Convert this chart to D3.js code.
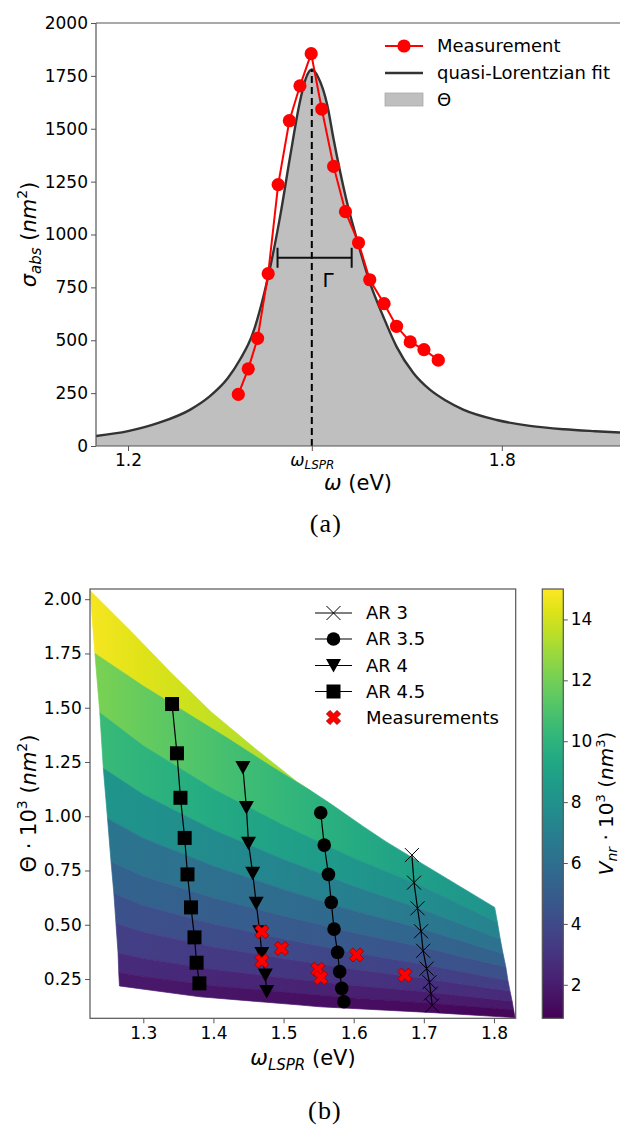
<!DOCTYPE html>
<html>
<head>
<meta charset="utf-8">
<script src="https://cdn.jsdelivr.net/npm/d3@7"></script>
<style>
  body { margin: 0; background: #fff; }
  svg text { font-family: "DejaVu Sans", sans-serif; fill: #000; }
</style>
</head>
<body>
<svg id="fig" width="620" height="1129"></svg>
<script>
// ---------- panel (a) data ----------
const omegaLSPR = 1.495;
const fitOmega = [1.1486, 1.20, 1.25, 1.30, 1.33, 1.36, 1.38, 1.40, 1.415, 1.43, 1.445, 1.46, 1.475, 1.485, 1.495,
                  1.505, 1.52, 1.53, 1.55, 1.572, 1.588, 1.61, 1.631, 1.658, 1.685, 1.71, 1.738, 1.792, 1.845, 1.90, 1.95, 1.99];
const fitSigma = [47, 70, 110, 172, 232, 320, 410, 530, 680, 870, 1100, 1365, 1615, 1735, 1780,
                  1745, 1610, 1450, 1170, 930, 775, 610, 470, 345, 265, 215, 172, 123, 95, 79, 70, 64];
const measOmega = [1.377, 1.393, 1.408, 1.425, 1.441, 1.459, 1.476, 1.494, 1.511, 1.530, 1.549, 1.570, 1.588, 1.611, 1.631, 1.653, 1.675, 1.698];
const measSigma = [244, 365, 509, 815, 1236, 1538, 1703, 1855, 1593, 1322, 1108, 961, 786, 673, 566, 492, 456, 406];
const gammaBar = [1.44, 1.559];   // FWHM bar ends
const gammaLevel = 890;
const yTicksA = [0, 250, 500, 750, 1000, 1250, 1500, 1750, 2000];
const xTicksA = [1.2, omegaLSPR, 1.8];

// ---------- panel (b) data ----------
const ar3Omega  = [1.683, 1.686, 1.691, 1.696, 1.699, 1.704, 1.708, 1.710, 1.712];
const ar3Theta  = [0.821, 0.694, 0.576, 0.470, 0.380, 0.298, 0.235, 0.183, 0.128];
const ar35Omega = [1.553, 1.558, 1.564, 1.568, 1.572, 1.577, 1.580, 1.583, 1.586];
const ar35Theta = [1.016, 0.867, 0.732, 0.603, 0.480, 0.373, 0.284, 0.207, 0.145];
const ar4Omega  = [1.442, 1.447, 1.450, 1.456, 1.461, 1.466, 1.469, 1.474, 1.476];
const ar4Theta  = [1.224, 1.040, 0.875, 0.737, 0.599, 0.468, 0.368, 0.268, 0.192];
const ar45Omega = [1.341, 1.348, 1.353, 1.359, 1.363, 1.368, 1.373, 1.376, 1.380];
const ar45Theta = [1.517, 1.290, 1.085, 0.900, 0.732, 0.580, 0.442, 0.325, 0.230];
const bMeasOmega = [1.469, 1.469, 1.497, 1.549, 1.553, 1.604, 1.673];
const bMeasTheta = [0.468, 0.333, 0.391, 0.295, 0.256, 0.361, 0.268];

// outline and band boundaries of the V_nr map, [omega, theta]
const edgeTop = [[1.224,2.04],[1.283,1.85],[1.340,1.66],[1.397,1.48],[1.459,1.313],[1.519,1.159],[1.566,1.06],
                 [1.614,0.952],[1.646,0.883],[1.70,0.777],[1.801,0.58]];
const level1 = [[1.231,1.75],[1.30,1.60],[1.36,1.48],[1.42,1.36],[1.48,1.235],[1.54,1.115]];
const level2 = [[1.238,1.477],[1.30,1.325],[1.40,1.125],[1.50,0.958],[1.60,0.807],[1.70,0.674],[1.805,0.510]];
const level3 = [[1.243,1.221],[1.30,1.100],[1.40,0.937],[1.50,0.801],[1.60,0.677],[1.70,0.568],[1.809,0.433]];
const level4 = [[1.249,0.990],[1.30,0.899],[1.40,0.771],[1.50,0.663],[1.60,0.565],[1.70,0.478],[1.813,0.366]];
const level5 = [[1.254,0.790],[1.30,0.723],[1.40,0.623],[1.50,0.540],[1.60,0.463],[1.70,0.395],[1.817,0.304]];
const level6 = [[1.258,0.645],[1.30,0.589],[1.40,0.504],[1.50,0.434],[1.60,0.371],[1.70,0.317],[1.820,0.242]];
const level7 = [[1.261,0.507],[1.30,0.467],[1.40,0.398],[1.50,0.344],[1.60,0.295],[1.70,0.252],[1.823,0.193]];
const level8 = [[1.264,0.370],[1.30,0.345],[1.40,0.294],[1.50,0.255],[1.60,0.220],[1.70,0.191],[1.826,0.146]];
const level9 = [[1.265,0.280],[1.30,0.262],[1.40,0.219],[1.50,0.190],[1.60,0.163],[1.70,0.141],[1.828,0.108]];
const edgeBottom = [[1.266,0.218],[1.381,0.168],[1.524,0.130],[1.552,0.122],[1.714,0.095],[1.830,0.072]];
// colour (V_nr) at left and right end of each band, top band first
const bandLeftV  = [14.8, 12.2, 10.5, 8.3, 6.4, 5.4, 4.5, 3.6, 2.7, 1.9];
const bandRightV = [11.1, 7.9, 7.0, 6.1, 5.2, 4.3, 3.4, 2.6, 1.8, 1.1];
const vRange = [0.9, 15.0];

const xTicksB = [1.3, 1.4, 1.5, 1.6, 1.7, 1.8];
const yTicksB = [0.25, 0.50, 0.75, 1.00, 1.25, 1.50, 1.75, 2.00];
const cbTicks = [2, 4, 6, 8, 10, 12, 14];

const svg = d3.select("#fig");
const defs = svg.append("defs");
const spine = "#555";

function styleAxis(g) {
  g.attr("font-family", "DejaVu Sans").attr("font-size", 17);
  g.select(".domain").remove();
  g.selectAll(".tick line").attr("stroke", spine).attr("stroke-width", 1);
  g.selectAll(".tick text").attr("fill", "#000");
}

// ================= panel (a) =================
const xa = d3.scaleLinear().domain([1.1486, 1.9897]).range([96, 620]);
const ya = d3.scaleLinear().domain([0, 2000]).range([446, 23]);

defs.append("clipPath").attr("id", "clipA")
  .append("rect").attr("x", 96).attr("y", 23).attr("width", 524).attr("height", 423);

const fitPts = fitOmega.map((w, i) => [w, fitSigma[i]]);
const measPts = measOmega.map((w, i) => [w, measSigma[i]]);

const pa = svg.append("g").attr("clip-path", "url(#clipA)");

pa.append("path").datum(fitPts)
  .attr("fill", "#bfbfbf")
  .attr("d", d3.area().x(d => xa(d[0])).y0(ya(0)).y1(d => ya(d[1])).curve(d3.curveMonotoneX));

pa.append("path").datum(fitPts)
  .attr("fill", "none").attr("stroke", "#333").attr("stroke-width", 2.4)
  .attr("d", d3.line().x(d => xa(d[0])).y(d => ya(d[1])).curve(d3.curveMonotoneX));

// omega_LSPR dashed line
pa.append("line")
  .attr("x1", xa(omegaLSPR)).attr("x2", xa(omegaLSPR))
  .attr("y1", ya(0)).attr("y2", ya(d3.max(fitSigma)))
  .attr("stroke", "#000").attr("stroke-width", 2).attr("stroke-dasharray", "7,4");

// Gamma bar
const gBar = pa.append("g").attr("stroke", "#111").attr("stroke-width", 2);
gBar.append("line").attr("x1", xa(gammaBar[0])).attr("x2", xa(gammaBar[1]))
  .attr("y1", ya(gammaLevel)).attr("y2", ya(gammaLevel));
gammaBar.forEach(w => gBar.append("line").attr("x1", xa(w)).attr("x2", xa(w))
  .attr("y1", ya(gammaLevel) - 10).attr("y2", ya(gammaLevel) + 10));
svg.append("text").attr("x", xa(1.521)).attr("y", ya(gammaLevel) + 29)
  .attr("text-anchor", "middle").attr("font-size", 20).text("Γ");

// measurement
pa.append("path").datum(measPts)
  .attr("fill", "none").attr("stroke", "#ff0000").attr("stroke-width", 2)
  .attr("d", d3.line().x(d => xa(d[0])).y(d => ya(d[1])));
pa.selectAll("circle.meas").data(measPts).enter().append("circle")
  .attr("class", "meas")
  .attr("cx", d => xa(d[0])).attr("cy", d => ya(d[1])).attr("r", 6.6)
  .attr("fill", "#ff0000");

// axes a
const axYA = svg.append("g").attr("transform", "translate(96,0)")
  .call(d3.axisLeft(ya).tickValues(yTicksA).tickSize(5).tickPadding(3).tickSizeOuter(0).tickFormat(d3.format("d")));
styleAxis(axYA);
const axXA = svg.append("g").attr("transform", "translate(0,446)")
  .call(d3.axisBottom(xa).tickValues(xTicksA).tickSize(5).tickPadding(3).tickSizeOuter(0)
    .tickFormat(d => d === omegaLSPR ? "" : d3.format(".1f")(d)));
styleAxis(axXA);
axXA.selectAll(".tick text").filter(d => d === omegaLSPR).each(function() {
  const t = d3.select(this);
  t.append("tspan").attr("font-style", "italic").text("ω");
  t.append("tspan").attr("font-style", "italic").attr("font-size", 12).attr("dy", 3).text("LSPR");
});
// spines
svg.append("line").attr("x1", 96).attr("x2", 96).attr("y1", 23).attr("y2", 446).attr("stroke", spine).attr("stroke-width", 1.2);
svg.append("line").attr("x1", 96).attr("x2", 620).attr("y1", 446).attr("y2", 446).attr("stroke", spine).attr("stroke-width", 1.2);
svg.append("line").attr("x1", 96).attr("x2", 620).attr("y1", 23).attr("y2", 23).attr("stroke", spine).attr("stroke-width", 1.2);

// axis labels a
const ylA = svg.append("text").attr("transform", "translate(36,234.5) rotate(-90)")
  .attr("text-anchor", "middle").attr("font-size", 21);
ylA.append("tspan").attr("font-style", "italic").text("σ");
ylA.append("tspan").attr("font-style", "italic").attr("font-size", 15).attr("dy", 5).text("abs");
ylA.append("tspan").attr("dy", -5).text(" (");
ylA.append("tspan").attr("font-style", "italic").text("nm");
ylA.append("tspan").attr("font-size", 14).attr("dy", -9).text("2");
ylA.append("tspan").attr("dy", 9).text(")");

const xlA = svg.append("text").attr("x", 358).attr("y", 490).attr("text-anchor", "middle").attr("font-size", 21);
xlA.append("tspan").attr("font-style", "italic").text("ω");
xlA.append("tspan").text(" (eV)");

// legend a
const lgA = svg.append("g");
lgA.append("line").attr("x1", 385).attr("x2", 423).attr("y1", 46).attr("y2", 46).attr("stroke", "#ff0000").attr("stroke-width", 2);
lgA.append("circle").attr("cx", 404).attr("cy", 46).attr("r", 6.6).attr("fill", "#ff0000");
lgA.append("line").attr("x1", 385).attr("x2", 423).attr("y1", 73).attr("y2", 73).attr("stroke", "#333").attr("stroke-width", 2.4);
lgA.append("rect").attr("x", 385).attr("y", 93).attr("width", 38).attr("height", 13)
  .attr("fill", "#bfbfbf").attr("stroke", "#aaa").attr("stroke-width", 0.8);
["Measurement", "quasi-Lorentzian fit", "Θ"].forEach((s, i) => {
  lgA.append("text").attr("x", 437).attr("y", [46, 73, 99.5][i]).attr("dy", "0.35em")
    .attr("font-size", 18).text(s);
});

svg.append("text").attr("x", 326).attr("y", 532).attr("text-anchor", "middle")
  .attr("font-size", 26).attr("letter-spacing", 1.2)
  .style("font-family", "'Liberation Serif', serif").text("(a)");

// ================= panel (b) =================
const xb = d3.scaleLinear().domain([1.224, 1.831]).range([90, 515.7]);
const yb = d3.scaleLinear().domain([0.069, 2.047]).range([1018.3, 589]);
const cb = d3.scaleLinear().domain(vRange).range([1018.3, 589]);
const vColor = v => d3.interpolateViridis((v - vRange[0]) / (vRange[1] - vRange[0]));

// bands
const b1End = level1[level1.length - 1][0];
const bandUpper = [
  edgeTop.filter(p => p[0] < b1End).concat([level1[level1.length - 1]]),
  level1.concat(edgeTop.filter(p => p[0] > b1End)),
  level2, level3, level4, level5, level6, level7, level8, level9
];
const bandLower = [level1, level2, level3, level4, level5, level6, level7, level8, level9, edgeBottom];
const lineB = d3.line().x(d => xb(d[0])).y(d => yb(d[1]));

const pb = svg.append("g");
bandUpper.forEach((up, i) => {
  const gid = "band" + i;
  const gr = defs.append("linearGradient").attr("id", gid)
    .attr("gradientUnits", "userSpaceOnUse")
    .attr("x1", xb(1.224)).attr("x2", xb(1.831)).attr("y1", 0).attr("y2", 0);
  d3.range(0, 1.001, 0.125).forEach(t => {
    gr.append("stop").attr("offset", t)
      .attr("stop-color", vColor(bandLeftV[i] + t * (bandRightV[i] - bandLeftV[i])));
  });
  const poly = up.concat(bandLower[i].slice().reverse());
  pb.append("path").attr("d", lineB(poly) + "Z")
    .attr("fill", `url(#${gid})`).attr("stroke", `url(#${gid})`).attr("stroke-width", 0.7)
    .attr("stroke-linejoin", "round");
});

// AR series
const arSeries = [
  { name: "AR 3", om: ar3Omega, th: ar3Theta, mk: "x" },
  { name: "AR 3.5", om: ar35Omega, th: ar35Theta, mk: "o" },
  { name: "AR 4", om: ar4Omega, th: ar4Theta, mk: "v" },
  { name: "AR 4.5", om: ar45Omega, th: ar45Theta, mk: "s" }
];
function drawMarker(g, mk, x, y) {
  if (mk === "x") {
    g.append("path").attr("d", `M${x - 7},${y - 7}L${x + 7},${y + 7}M${x - 7},${y + 7}L${x + 7},${y - 7}`)
      .attr("stroke", "#000").attr("stroke-width", 1).attr("fill", "none");
  } else if (mk === "o") {
    g.append("circle").attr("cx", x).attr("cy", y).attr("r", 6.8).attr("fill", "#000");
  } else if (mk === "v") {
    g.append("path").attr("d", `M${x - 7.5},${y - 6.5}L${x + 7.5},${y - 6.5}L${x},${y + 7}Z`).attr("fill", "#000");
  } else if (mk === "s") {
    g.append("rect").attr("x", x - 7).attr("y", y - 7).attr("width", 14).attr("height", 14).attr("fill", "#000");
  } else if (mk === "X") {
    g.append("path").attr("d", d3.symbol().type(d3.symbolCross).size(125)())
      .attr("transform", `translate(${x},${y}) rotate(45)`)
      .attr("fill", "#ff0000").attr("stroke", "#9b0000").attr("stroke-width", 0.8);
  }
}
arSeries.forEach(s => {
  const pts = s.om.map((w, i) => [w, s.th[i]]);
  pb.append("path").datum(pts).attr("fill", "none").attr("stroke", "#000").attr("stroke-width", 1.2)
    .attr("d", lineB);
  pts.forEach(p => drawMarker(pb, s.mk, xb(p[0]), yb(p[1])));
});
bMeasOmega.forEach((w, i) => drawMarker(pb, "X", xb(w), yb(bMeasTheta[i])));

// axes b
const axYB = svg.append("g").attr("transform", "translate(90,0)")
  .call(d3.axisLeft(yb).tickValues(yTicksB).tickSize(5).tickPadding(3.3).tickSizeOuter(0).tickFormat(d3.format(".2f")));
styleAxis(axYB);
const axXB = svg.append("g").attr("transform", "translate(0,1018.3)")
  .call(d3.axisBottom(xb).tickValues(xTicksB).tickSize(5).tickPadding(3.4).tickSizeOuter(0).tickFormat(d3.format(".1f")));
styleAxis(axXB);
svg.append("rect").attr("x", 90).attr("y", 589).attr("width", 425.7).attr("height", 429.3)
  .attr("fill", "none").attr("stroke", spine).attr("stroke-width", 1.2);

const ylB = svg.append("text").attr("transform", "translate(36,803.5) rotate(-90)")
  .attr("text-anchor", "middle").attr("font-size", 21);
ylB.append("tspan").text("Θ · 10");
ylB.append("tspan").attr("font-size", 14).attr("dy", -9).text("3");
ylB.append("tspan").attr("dy", 9).text(" (");
ylB.append("tspan").attr("font-style", "italic").text("nm");
ylB.append("tspan").attr("font-size", 14).attr("dy", -9).text("2");
ylB.append("tspan").attr("dy", 9).text(")");

const xlB = svg.append("text").attr("x", 303).attr("y", 1065).attr("text-anchor", "middle").attr("font-size", 21);
xlB.append("tspan").attr("font-style", "italic").text("ω");
xlB.append("tspan").attr("font-style", "italic").attr("font-size", 15).attr("dy", 5).text("LSPR");
xlB.append("tspan").attr("dy", -5).text(" (eV)");

// legend b
const lgB = svg.append("g");
const lgRows = [613, 639, 665.5, 691.5, 717.5];
arSeries.forEach((s, i) => {
  lgB.append("line").attr("x1", 315).attr("x2", 352).attr("y1", lgRows[i]).attr("y2", lgRows[i])
    .attr("stroke", "#000").attr("stroke-width", 1.2);
  drawMarker(lgB, s.mk, 333.5, lgRows[i]);
  lgB.append("text").attr("x", 366).attr("y", lgRows[i]).attr("dy", "0.35em").attr("font-size", 18).text(s.name);
});
drawMarker(lgB, "X", 333.5, lgRows[4]);
lgB.append("text").attr("x", 366).attr("y", lgRows[4]).attr("dy", "0.35em").attr("font-size", 18).text("Measurements");

// colorbar
const cbg = defs.append("linearGradient").attr("id", "cbar")
  .attr("x1", 0).attr("y1", 1).attr("x2", 0).attr("y2", 0);
d3.range(0, 1.001, 0.05).forEach(t => cbg.append("stop").attr("offset", t).attr("stop-color", d3.interpolateViridis(t)));
svg.append("rect").attr("x", 542.3).attr("y", 589).attr("width", 21).attr("height", 429.3)
  .attr("fill", "url(#cbar)").attr("stroke", spine).attr("stroke-width", 1.2);
const axCB = svg.append("g").attr("transform", "translate(563.3,0)")
  .call(d3.axisRight(cb).tickValues(cbTicks).tickSize(4.5).tickPadding(3).tickSizeOuter(0));
styleAxis(axCB);

const cbl = svg.append("text").attr("transform", "translate(613,803.5) rotate(-90)")
  .attr("text-anchor", "middle").attr("font-size", 20);
cbl.append("tspan").attr("font-style", "italic").text("V");
cbl.append("tspan").attr("font-style", "italic").attr("font-size", 14).attr("dy", 4).text("nr");
cbl.append("tspan").attr("dy", -4).text(" · 10");
cbl.append("tspan").attr("font-size", 13).attr("dy", -8).text("3");
cbl.append("tspan").attr("dy", 8).text(" (");
cbl.append("tspan").attr("font-style", "italic").text("nm");
cbl.append("tspan").attr("font-size", 13).attr("dy", -8).text("3");
cbl.append("tspan").attr("dy", 8).text(")");

svg.append("text").attr("x", 325).attr("y", 1119).attr("text-anchor", "middle")
  .attr("font-size", 26).attr("letter-spacing", 1.2)
  .style("font-family", "'Liberation Serif', serif").text("(b)");
</script>
</body>
</html>
